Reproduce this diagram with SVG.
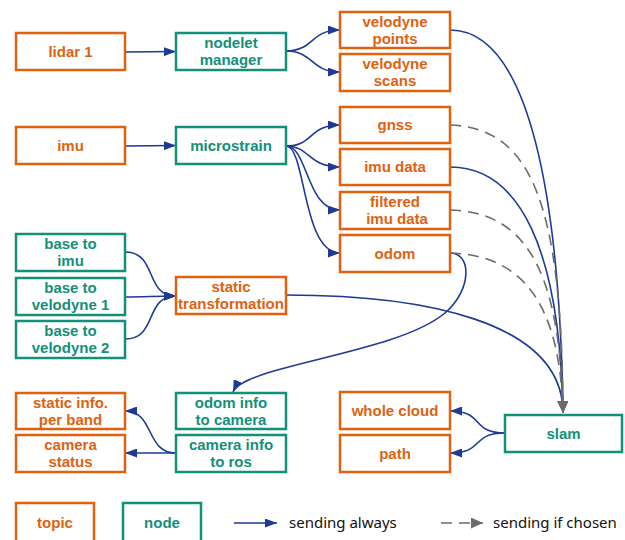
<svg xmlns="http://www.w3.org/2000/svg" width="625" height="540" viewBox="0 0 625 540">
<style>
.t rect{fill:#fff;stroke:#e0620f;stroke-width:2.5}
.n rect{fill:#fff;stroke:#13907a;stroke-width:2.5}
.t text{fill:#e0620f}
.n text{fill:#13907a}
text{font-family:"Liberation Sans",Arial,sans-serif;font-weight:bold;font-size:15px;text-anchor:middle}
.c path{fill:none;stroke:#1c3a96;stroke-width:1.6}
.c path.d{stroke:#6b6b6b;stroke-dasharray:11,7}
.lg{font-family:"Noto Sans","Open Sans",sans-serif;font-weight:normal;font-size:15px;text-anchor:start;fill:#111}
</style>
<defs>
<marker id="ab" markerUnits="userSpaceOnUse" markerWidth="13" markerHeight="9" refX="12" refY="4.5" orient="auto"><path d="M0,0 L12,4.5 L0,9 z" fill="#1c3a96"/></marker>
<marker id="ag" markerUnits="userSpaceOnUse" markerWidth="13" markerHeight="11" refX="12" refY="5.5" orient="auto"><path d="M0,0 L12,5.5 L0,11 z" fill="#6b6b6b"/></marker>
</defs>
<rect width="625" height="540" fill="#fff"/>
<g id="connectors" class="c">
<path d="M125,52 L176,51.5" marker-end="url(#ab)"/>
<path d="M125,146 L176,145.5" marker-end="url(#ab)"/>
<path d="M286,51 C314,51 310,30 340,30" marker-end="url(#ab)"/>
<path d="M286,51 C314,51 310,72 340,72" marker-end="url(#ab)"/>
<path d="M286,146 C314,146 308,125 340,125" marker-end="url(#ab)"/>
<path d="M286,146 C310,146 308,167 340,167" marker-end="url(#ab)"/>
<path d="M286,146 C308,146 306,210 340,210" marker-end="url(#ab)"/>
<path d="M286,146 C306,146 302,253 340,253" marker-end="url(#ab)"/>
<path d="M125,252 C158,252 144,296 176,296" marker-end="url(#ab)"/>
<path d="M125,297 C145,297 155,296 176,296" marker-end="url(#ab)"/>
<path d="M125,339 C158,339 144,296 176,296" marker-end="url(#ab)"/>
<path d="M176,453 L125,453" marker-end="url(#ab)"/>
<path d="M176,453 C145,453 155,411 125,411" marker-end="url(#ab)"/>
<path d="M505,433 C470,433 485,411 450,411" marker-end="url(#ab)"/>
<path d="M505,433 C470,433 485,453 450,453" marker-end="url(#ab)"/>
<path d="M450,253 C472,253 472,290 445,313 C396,354 245,365 233,392" marker-end="url(#ab)"/>
<path d="M286,295 C420,295 563,320 563,413" marker-end="url(#ab)"/>
<path d="M450,30 C530,30 560,200 563,413" marker-end="url(#ab)"/>
<path d="M450,167 C520,167 560,250 563,413" marker-end="url(#ab)"/>
<path class="d" d="M450,125 C530,128 562,200 563,413" marker-end="url(#ag)"/>
<path class="d" d="M450,210 C520,212 560,260 563,413" marker-end="url(#ag)"/>
<path class="d" d="M450,253 C520,255 560,300 563,413" marker-end="url(#ag)"/>
<path d="M234,523 L277,523" marker-end="url(#ab)"/>
<path class="d" d="M441,523 L483,523" marker-end="url(#ag)"/>
</g>
<g id="lidar1" class="t"><rect x="16" y="33" width="109" height="37"/><text x="70.5" y="57">lidar 1</text></g>
<g id="imu" class="t"><rect x="16" y="127" width="109" height="37"/><text x="70.5" y="151">imu</text></g>
<g id="base-to-imu" class="n"><rect x="16" y="234" width="109" height="37"/><text x="70.5" y="249">base to</text><text x="70.5" y="266">imu</text></g>
<g id="base-to-velodyne1" class="n"><rect x="16" y="278" width="109" height="37"/><text x="70.5" y="293">base to</text><text x="70.5" y="310">velodyne 1</text></g>
<g id="base-to-velodyne2" class="n"><rect x="16" y="321" width="109" height="37"/><text x="70.5" y="336">base to</text><text x="70.5" y="353">velodyne 2</text></g>
<g id="static-info" class="t"><rect x="16" y="393" width="109" height="36"/><text x="70.5" y="407.5">static info.</text><text x="70.5" y="424.5">per band</text></g>
<g id="camera-status" class="t"><rect x="16" y="435" width="109" height="37"/><text x="70.5" y="450">camera</text><text x="70.5" y="467">status</text></g>
<g id="nodelet-manager" class="n"><rect x="176" y="33" width="110" height="37"/><text x="231" y="48">nodelet</text><text x="231" y="65">manager</text></g>
<g id="microstrain" class="n"><rect x="176" y="127" width="110" height="37"/><text x="231" y="151">microstrain</text></g>
<g id="static-transformation" class="t"><rect x="176" y="277" width="110" height="37"/><text x="231" y="292">static</text><text x="231" y="309">transformation</text></g>
<g id="odom-info" class="n"><rect x="176" y="393" width="110" height="36"/><text x="231" y="407.5">odom info</text><text x="231" y="424.5">to camera</text></g>
<g id="camera-info" class="n"><rect x="176" y="435" width="110" height="37"/><text x="231" y="450">camera info</text><text x="231" y="467">to ros</text></g>
<g id="velodyne-points" class="t"><rect x="340" y="12" width="110" height="36"/><text x="395" y="26.5">velodyne</text><text x="395" y="43.5">points</text></g>
<g id="velodyne-scans" class="t"><rect x="340" y="54" width="110" height="37"/><text x="395" y="69">velodyne</text><text x="395" y="86">scans</text></g>
<g id="gnss" class="t"><rect x="340" y="107" width="110" height="36"/><text x="395" y="130">gnss</text></g>
<g id="imu-data" class="t"><rect x="340" y="149" width="110" height="36"/><text x="395" y="172">imu data</text></g>
<g id="filtered-imu-data" class="t"><rect x="340" y="192" width="110" height="37"/><text x="395" y="207">filtered</text><text x="397" y="224">imu data</text></g>
<g id="odom" class="t"><rect x="340" y="235" width="110" height="37"/><text x="395" y="259">odom</text></g>
<g id="whole-cloud" class="t"><rect x="340" y="392" width="110" height="37"/><text x="395" y="416">whole cloud</text></g>
<g id="path" class="t"><rect x="340" y="435" width="110" height="37"/><text x="395" y="459">path</text></g>
<g id="slam" class="n"><rect x="505" y="415" width="117" height="37"/><text x="563.5" y="439">slam</text></g>
<g id="legend-topic" class="t"><rect x="16" y="503" width="78" height="45"/><text x="55" y="528">topic</text></g>
<g id="legend-node" class="n"><rect x="123" y="503" width="78" height="45"/><text x="162" y="528">node</text></g>
<text class="lg" x="289" y="528">sending always</text>
<text class="lg" x="493" y="528">sending if chosen</text>
</svg>
